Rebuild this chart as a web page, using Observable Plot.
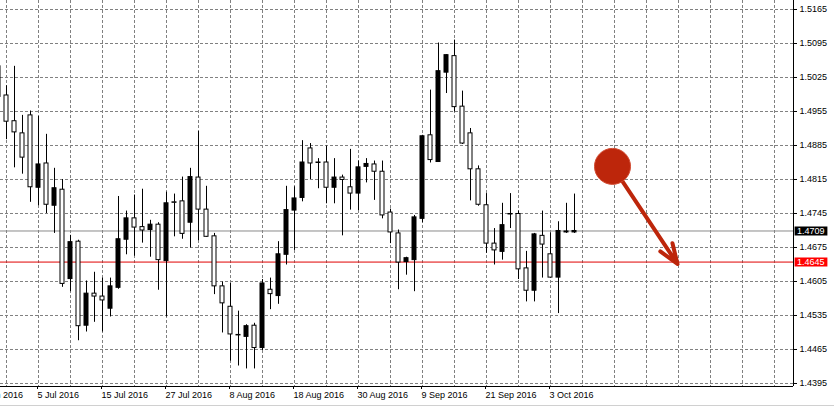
<!DOCTYPE html>
<html><head><meta charset="utf-8">
<script src="https://cdn.jsdelivr.net/npm/d3@7"></script>
<script src="https://cdn.jsdelivr.net/npm/@observablehq/plot@0.6"></script>
<style>
html,body{margin:0;padding:0;background:#fff;}
#wrap{position:relative;width:834px;height:409px;overflow:hidden;}
#edge{position:absolute;left:0;top:405px;width:834px;height:1px;background:#d0d0d0;}
</style></head><body><div id="wrap"><div id="edge"></div></div>
<script>
// Daily candles, 28 Jun 2016 .. 6 Oct 2016 (weekdays)
const open  = [1.5048,1.4988,1.4935,1.4910,1.4947,1.4798,1.4848,1.4761,1.4794,1.4610,1.4687,1.4514,1.4580,1.4574,1.4549,1.4592,1.4691,1.4735,1.4717,1.4711,1.4722,1.4647,1.4768,1.4770,1.4726,1.4819,1.4753,1.4698,1.4595,1.4553,1.4495,1.4491,1.4514,1.4468,1.4588,1.4575,1.4660,1.4751,1.4777,1.4879,1.4850,1.4850,1.4798,1.4819,1.4799,1.4786,1.4841,1.4846,1.4831,1.4747,1.4704,1.4645,1.4649,1.4734,1.4906,1.4851,1.5035,1.5069,1.4965,1.4910,1.4836,1.4762,1.4683,1.4666,1.4744,1.4744,1.4632,1.4586,1.4699,1.4661,1.4613,1.4706,1.4706];
const high  = [1.5060,1.5008,1.5048,1.4947,1.4956,1.4945,1.4908,1.4838,1.4815,1.4700,1.4690,1.4606,1.4624,1.4612,1.4612,1.4780,1.4750,1.4783,1.4795,1.4731,1.4726,1.4789,1.4785,1.4820,1.4838,1.4914,1.4801,1.4704,1.4604,1.4601,1.4544,1.4516,1.4519,1.4609,1.4612,1.4687,1.4801,1.4800,1.4895,1.4889,1.4858,1.4884,1.4858,1.4824,1.4877,1.4853,1.4858,1.4853,1.4853,1.4754,1.4711,1.4655,1.4741,1.4906,1.4999,1.5096,1.5072,1.5102,1.4997,1.4920,1.4843,1.4786,1.4714,1.4766,1.4786,1.4750,1.4667,1.4704,1.4750,1.4705,1.4728,1.4766,1.4785];
const low   = [1.4975,1.4897,1.4839,1.4826,1.4768,1.4761,1.4745,1.4704,1.4593,1.4584,1.4483,1.4501,1.4521,1.4501,1.4532,1.4589,1.4660,1.4657,1.4684,1.4655,1.4587,1.4532,1.4697,1.4692,1.4674,1.4689,1.4696,1.4578,1.4499,1.4441,1.4431,1.4425,1.4425,1.4463,1.4547,1.4558,1.4639,1.4669,1.4769,1.4815,1.4796,1.4765,1.4765,1.4699,1.4752,1.4751,1.4808,1.4772,1.4734,1.4683,1.4588,1.4618,1.4584,1.4726,1.4849,1.4850,1.4992,1.4954,1.4887,1.4771,1.4760,1.4663,1.4639,1.4649,1.4714,1.4609,1.4563,1.4563,1.4612,1.4612,1.4539,1.4704,1.4704];
const close = [1.4985,1.4934,1.4912,1.4860,1.4799,1.4846,1.4763,1.4797,1.4600,1.4686,1.4513,1.4580,1.4574,1.4566,1.4595,1.4692,1.4735,1.4716,1.4710,1.4722,1.4649,1.4766,1.4767,1.4703,1.4820,1.4753,1.4697,1.4595,1.4560,1.4496,1.4494,1.4513,1.4468,1.4601,1.4579,1.4661,1.4752,1.4776,1.4850,1.4848,1.4849,1.4798,1.4819,1.4814,1.4786,1.4840,1.4847,1.4831,1.4741,1.4706,1.4644,1.4653,1.4737,1.4904,1.4855,1.5038,1.5071,1.4964,1.4889,1.4836,1.4763,1.4683,1.4669,1.4721,1.4743,1.4630,1.4586,1.4702,1.4681,1.4613,1.4709,1.4708,1.4709];

const firstDate = new Date(Date.UTC(2016, 5, 28));
const endDate = new Date(Date.UTC(2016, 9, 7));
const dates = d3.utcDay.range(firstDate, endDate).filter(d => d.getUTCDay() % 6 !== 0);

const xLabels = ["23 Jun 2016","5 Jul 2016","15 Jul 2016","27 Jul 2016","8 Aug 2016","18 Aug 2016","30 Aug 2016","9 Sep 2016","21 Sep 2016","3 Oct 2016"];
const priceTicks = [1.4395,1.4465,1.4535,1.4605,1.4675,1.4745,1.4815,1.4885,1.4955,1.5025,1.5095,1.5165];
const bidPrice = 1.4709;
const levelPrice = 1.4645;
// annotation: circle and arrow, in trading-day index / price units
const signalDot = [{i: 76.75, p: 1.4842}];
const signalArrow = [{i1: 76.75, p1: 1.4842, i2: 84.875, p2: 1.4641}];

const parse = d3.utcParse("%d %b %Y");
function tIndex(d) {
  const before = d < firstDate;
  const a = before ? d : firstDate, b = before ? firstDate : d;
  const n = d3.utcDay.range(a, b).filter(x => x.getUTCDay() % 6 !== 0).length;
  return before ? -n : n;
}

const candles = dates.map((d, i) => ({i, date: d, o: open[i], h: high[i], l: low[i], c: close[i]}));
const labelIdx = xLabels.map(s => tIndex(parse(s)));
const labelMap = new Map(labelIdx.map((v, j) => [v, xLabels[j]]));

const xDomain = [0.25, 99.375];
const yDomain = [1.438882, 1.518353];
const gridX = d3.range(1, 99, 4);
const gridColor = "#808080";
const annot = "#bd260b";

const chart = Plot.plot({
  width: 834, height: 409,
  marginLeft: 0, marginRight: 41, marginTop: 0, marginBottom: 23,
  x: {type: "linear", domain: xDomain, axis: null},
  y: {domain: yDomain, axis: null},
  style: {fontFamily: "'Liberation Sans', Arial, sans-serif", fontSize: "9px", background: "#fff", color: "#000"},
  marks: [
    Plot.ruleX(gridX, {stroke: gridColor, strokeDasharray: "3,2"}),
    Plot.ruleY(priceTicks, {stroke: gridColor, strokeDasharray: "3,2"}),
    Plot.ruleY([bidPrice], {stroke: "#8a8a8a"}),
    Plot.ruleY([levelPrice], {stroke: "#e00000"}),
    Plot.ruleX(candles, {x: "i", y1: "l", y2: "h", stroke: "#000", clip: true}),
    Plot.rect(candles, {
      x1: d => d.i - 0.25, x2: d => d.i + 0.25,
      y1: d => Math.min(d.o, d.c), y2: d => Math.max(d.o, d.c),
      fill: d => d.c > d.o ? "#000" : "#fff", stroke: "#000", clip: true
    }),
    Plot.arrow(signalArrow, {x1: "i1", y1: "p1", x2: "i2", y2: "p2", stroke: annot, strokeWidth: 4, headLength: 8, headAngle: 40}),
    Plot.dot(signalDot, {x: "i", y: "p", r: 18, fill: annot, stroke: "#d24a30", strokeWidth: 1}),
    Plot.ruleY([yDomain[0]], {stroke: "#000"}),
    Plot.ruleX([xDomain[1]], {stroke: "#000"}),
    Plot.axisX(labelIdx, {anchor: "bottom", tickSize: 3, tickPadding: 2, textAnchor: "start", dx: -1, tickFormat: d => labelMap.get(d), fill: "#000"}),
    Plot.axisY(priceTicks, {anchor: "right", tickSize: 3, tickPadding: 3, tickFormat: d3.format(".4f"), fill: "#000"}),
    Plot.ruleY([{p: bidPrice, bg: "#000"}, {p: levelPrice, bg: "#ff0000"}], {
      y: "p", x1: xDomain[1] + 0.2, x2: xDomain[1] + 4.3, stroke: d => d.bg, strokeWidth: 9
    }),
    Plot.text([bidPrice, levelPrice], {x: xDomain[1] + 0.2, y: d => d, text: d => d3.format(".4f")(d), textAnchor: "start", dx: 2, fill: "#fff"})
  ]
});
document.getElementById("wrap").prepend(chart);
</script>
</body></html>
